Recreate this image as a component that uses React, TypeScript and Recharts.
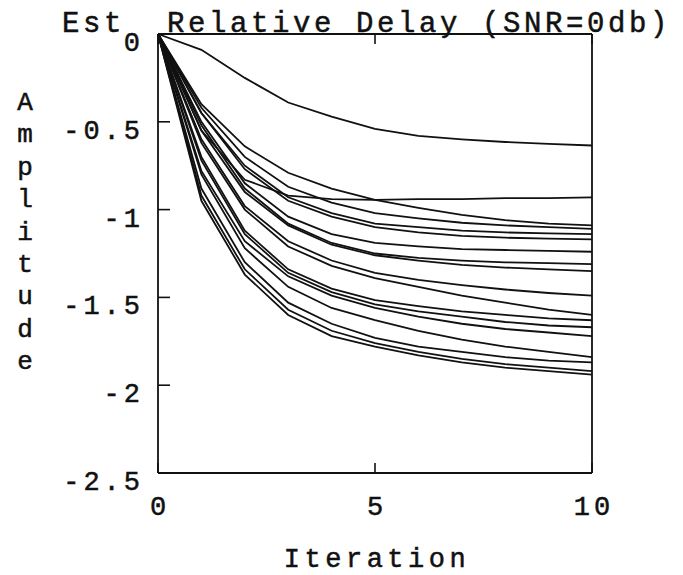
import React from "react"
import { LineChart, Line, XAxis, YAxis } from "recharts"

const iterations = [0, 1, 2, 3, 4, 5, 6, 7, 8, 9, 10]
const xTicks = [0, 5, 10]
const yTicks = [0, -0.5, -1, -1.5, -2, -2.5]

// one array per run at each iteration
const run01 = [0, -0.09, -0.25, -0.39, -0.47, -0.54, -0.58, -0.6, -0.615, -0.626, -0.635]
const run02 = [0, -0.55, -0.83, -0.92, -0.94, -0.945, -0.94, -0.94, -0.935, -0.935, -0.93]
const run03 = [0, -0.4, -0.64, -0.79, -0.88, -0.945, -0.99, -1.03, -1.06, -1.08, -1.09]
const run04 = [0, -0.42, -0.7, -0.87, -0.96, -1.02, -1.05, -1.075, -1.09, -1.1, -1.11]
const run05 = [0, -0.45, -0.75, -0.93, -1.02, -1.08, -1.1, -1.12, -1.13, -1.135, -1.14]
const run06 = [0, -0.45, -0.77, -0.95, -1.04, -1.1, -1.13, -1.15, -1.16, -1.165, -1.17]
const run07 = [0, -0.5, -0.85, -1.04, -1.14, -1.19, -1.21, -1.225, -1.23, -1.235, -1.24]
const run08 = [0, -0.52, -0.88, -1.08, -1.19, -1.25, -1.275, -1.29, -1.3, -1.305, -1.31]
const run09 = [0, -0.55, -0.9, -1.09, -1.2, -1.26, -1.29, -1.315, -1.33, -1.34, -1.35]
const run10 = [0, -0.6, -0.98, -1.18, -1.29, -1.36, -1.4, -1.43, -1.455, -1.475, -1.49]
const run11 = [0, -0.62, -1.0, -1.21, -1.32, -1.39, -1.44, -1.49, -1.53, -1.57, -1.6]
const run12 = [0, -0.7, -1.12, -1.34, -1.45, -1.515, -1.55, -1.58, -1.6, -1.62, -1.63]
const run13 = [0, -0.72, -1.14, -1.36, -1.47, -1.54, -1.58, -1.61, -1.64, -1.66, -1.67]
const run14 = [0, -0.78, -1.18, -1.38, -1.49, -1.56, -1.61, -1.65, -1.68, -1.7, -1.72]
const run15 = [0, -0.8, -1.22, -1.44, -1.56, -1.63, -1.69, -1.74, -1.78, -1.81, -1.84]
const run16 = [0, -0.88, -1.3, -1.53, -1.65, -1.73, -1.78, -1.81, -1.84, -1.86, -1.87]
const run17 = [0, -0.92, -1.34, -1.57, -1.69, -1.76, -1.81, -1.85, -1.88, -1.9, -1.92]
const run18 = [0, -0.95, -1.37, -1.6, -1.72, -1.78, -1.83, -1.87, -1.9, -1.92, -1.94]

const runs = [
  run01, run02, run03, run04, run05, run06, run07, run08, run09,
  run10, run11, run12, run13, run14, run15, run16, run17, run18,
]

const data = iterations.map((it, i) => {
  const row: any = { iter: it }
  runs.forEach((r, k) => {
    row[`r${k}`] = r[i]
  })
  return row
})

const FONT = "'Liberation Mono', 'DejaVu Sans Mono', monospace"
const INK = "#111"
// typewriter-ish weight: thin outline on the glyphs
const textInk = { fill: INK, stroke: INK, strokeWidth: 0.5, fontFamily: FONT }

const LeftTick = (props: any) => {
  const { x, y, payload } = props
  return (
    <g>
      <line x1={x} y1={y} x2={x + 12} y2={y} stroke={INK} strokeWidth={1.6} />
      <text x={x - 14} y={y + 17} textAnchor="end" fontSize={27} letterSpacing={4} {...textInk}>
        {String(payload.value)}
      </text>
    </g>
  )
}

const RightTick = (props: any) => {
  const { x, y } = props
  return <line x1={x} y1={y} x2={x - 12} y2={y} stroke={INK} strokeWidth={1.6} />
}

const BottomTick = (props: any) => {
  const { x, y, payload } = props
  return (
    <g>
      <line x1={x} y1={y} x2={x} y2={y - 10} stroke={INK} strokeWidth={1.6} />
      <text x={x + 2} y={y + 42} textAnchor="middle" fontSize={27} letterSpacing={4} {...textInk}>
        {String(payload.value)}
      </text>
    </g>
  )
}

const TopTick = (props: any) => {
  const { x, y } = props
  return <line x1={x} y1={y} x2={x} y2={y + 10} stroke={INK} strokeWidth={1.6} />
}

const amplitude = "Amplitude".split("")

export default function App() {
  return (
    <div style={{ position: "absolute", left: 0, top: 0, width: 683, height: 575, background: "#fff" }}>
      <LineChart width={683} height={575} data={data} margin={{ top: 0, right: 0, bottom: 0, left: 0 }}>
        <XAxis
          xAxisId="b"
          dataKey="iter"
          type="number"
          domain={[0, 10]}
          ticks={xTicks}
          height={102}
          tickSize={0}
          tickMargin={0}
          tickLine={false}
          tick={BottomTick}
          axisLine={{ stroke: INK, strokeWidth: 1.8 }}
          interval={0}
        />
        <XAxis
          xAxisId="t"
          orientation="top"
          dataKey="iter"
          type="number"
          domain={[0, 10]}
          ticks={xTicks}
          height={34}
          tickSize={0}
          tickMargin={0}
          tickLine={false}
          tick={TopTick}
          axisLine={{ stroke: INK, strokeWidth: 1.8 }}
          interval={0}
        />
        <YAxis
          yAxisId="l"
          type="number"
          domain={[-2.5, 0]}
          ticks={yTicks}
          width={158}
          tickSize={0}
          tickMargin={0}
          tickLine={false}
          tick={LeftTick}
          axisLine={{ stroke: INK, strokeWidth: 1.8 }}
          interval={0}
        />
        <YAxis
          yAxisId="r"
          orientation="right"
          type="number"
          domain={[-2.5, 0]}
          ticks={yTicks}
          width={91}
          tickSize={0}
          tickMargin={0}
          tickLine={false}
          tick={RightTick}
          axisLine={{ stroke: INK, strokeWidth: 1.8 }}
          interval={0}
        />
        {runs.map((_, k) => (
          <Line
            key={k}
            xAxisId="b"
            yAxisId="l"
            type="linear"
            dataKey={`r${k}`}
            stroke={INK}
            strokeWidth={1.8}
            dot={false}
            isAnimationActive={false}
          />
        ))}
      </LineChart>
      <svg width={683} height={575} style={{ position: "absolute", left: 0, top: 0, pointerEvents: "none" }}>
        <text x={62} y={32} fontSize={29} letterSpacing={3.6} {...textInk}>
          Est
        </text>
        <text x={167} y={32} fontSize={29} letterSpacing={3.6} {...textInk}>
          Relative Delay (SNR=0db)
        </text>
        <text x={377} y={567} textAnchor="middle" fontSize={27} letterSpacing={4.5} {...textInk}>
          Iteration
        </text>
        {amplitude.map((ch, i) => (
          <text key={i} x={25} y={110 + i * 32.4} textAnchor="middle" fontSize={26} {...textInk}>
            {ch}
          </text>
        ))}
      </svg>
    </div>
  )
}
